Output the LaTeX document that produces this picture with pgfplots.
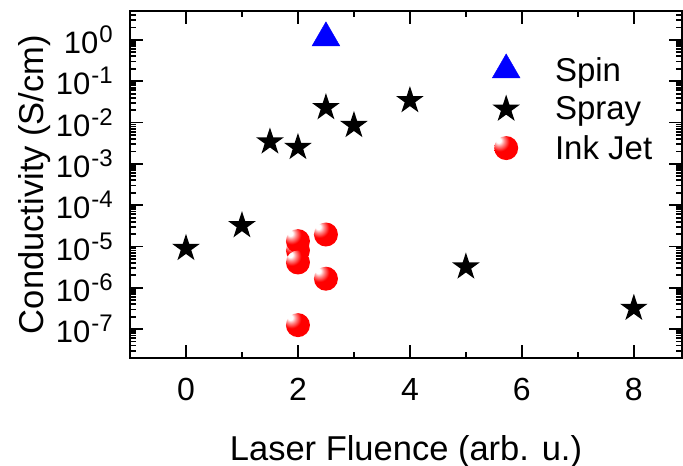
\documentclass[border=0pt]{standalone}
\usepackage{fontspec}
\setmainfont{Liberation Sans}
\usepackage{pgfplots}
\pgfplotsset{compat=1.18}

\pgfdeclareplotmark{fstar}{%
  \pgfmathsetlengthmacro\starinner{0.382*\pgfplotmarksize}%
  \pgfpathmoveto{\pgfpointpolar{90}{\pgfplotmarksize}}%
  \pgfpathlineto{\pgfpointpolar{126}{\starinner}}%
  \pgfpathlineto{\pgfpointpolar{162}{\pgfplotmarksize}}%
  \pgfpathlineto{\pgfpointpolar{198}{\starinner}}%
  \pgfpathlineto{\pgfpointpolar{234}{\pgfplotmarksize}}%
  \pgfpathlineto{\pgfpointpolar{270}{\starinner}}%
  \pgfpathlineto{\pgfpointpolar{306}{\pgfplotmarksize}}%
  \pgfpathlineto{\pgfpointpolar{342}{\starinner}}%
  \pgfpathlineto{\pgfpointpolar{18}{\pgfplotmarksize}}%
  \pgfpathlineto{\pgfpointpolar{54}{\starinner}}%
  \pgfpathclose
  \pgfusepathqfill
}

\pgfdeclareradialshading{redball}{\pgfpoint{-17bp}{17bp}}{%
  color(0bp)=(white);
  color(5bp)=(white);
  color(11bp)=(red!45!white);
  color(20bp)=(red);
  color(100bp)=(red)}

\pgfdeclareplotmark{ball}{%
  \pgfpathcircle{\pgfpointorigin}{\pgfplotmarksize}%
  \pgfshadepath{redball}{0}%
  \pgfusepath{discard}%
}

\newcommand\tl[1]{10\kern1pt\raisebox{11pt}{\fontsize{24}{24}\selectfont #1}}

\begin{document}
\begin{tikzpicture}
\useasboundingbox (-130pt,-108pt) rectangle (553pt,358pt);
\begin{axis}[
  at={(0pt,0pt)}, anchor=south west,
  scale only axis, width=552pt, height=347pt,
  xmin=-1, xmax=8.86,
  ymode=log, ymin=2e-8, ymax=5,
  xtick={0,2,4,6,8}, minor x tick num=1,
  ytick={1e-7,1e-6,1e-5,1e-4,1e-3,1e-2,1e-1,1},
  yticklabels={\tl{-7},\tl{-6},\tl{-5},\tl{-4},\tl{-3},\tl{-2},\tl{-1},\tl{0}},
  minor ytick={2e-8,3e-8,4e-8,5e-8,6e-8,7e-8,8e-8,9e-8,
    2e-7,3e-7,4e-7,5e-7,6e-7,7e-7,8e-7,9e-7,
    2e-6,3e-6,4e-6,5e-6,6e-6,7e-6,8e-6,9e-6,
    2e-5,3e-5,4e-5,5e-5,6e-5,7e-5,8e-5,9e-5,
    2e-4,3e-4,4e-4,5e-4,6e-4,7e-4,8e-4,9e-4,
    2e-3,3e-3,4e-3,5e-3,6e-3,7e-3,8e-3,9e-3,
    2e-2,3e-2,4e-2,5e-2,6e-2,7e-2,8e-2,9e-2,
    2e-1,3e-1,4e-1,5e-1,6e-1,7e-1,8e-1,9e-1,
    2,3,4},
  tick align=inside,
  major tick length=13pt, minor tick length=6pt,
  axis line style={line width=2pt},
  every tick/.style={line width=1.8pt, black},
  /pgf/number format/assume math mode=true,
  xticklabel style={font=\fontsize{32}{32}\selectfont, inner sep=0pt, anchor=north, yshift=-20pt},
  yticklabel style={font=\fontsize{31}{31}\selectfont, inner sep=0pt, anchor=east, xshift=-17pt},
  xlabel={Laser Fluence (arb. u.)},
  ylabel={Conductivity (S/cm)},
  xlabel style={font=\fontsize{34.5}{34.5}\selectfont, at={(axis description cs:0.5,-0.294)}, anchor=base},
  ylabel style={font=\fontsize{34.5}{34.5}\selectfont, at={(axis description cs:-0.1576,0.5)}, anchor=base},
  legend style={draw=none, fill=none, font=\fontsize{33}{33}\selectfont,
    at={(axis description cs:0.656,0.877)}, anchor=north west,
    row sep=10pt, inner sep=0pt,
    /tikz/every odd column/.append style={column sep=33pt}},
  legend cell align=left,
  legend image code/.code={\draw[mark repeat=2,mark phase=2] plot coordinates {(0pt,0pt)(17pt,0pt)(34pt,0pt)};},
]
\addplot[only marks, mark=triangle*, mark size=16pt, color=blue, mark options={fill=blue, draw=none}]
  coordinates {(2.5,1.12)};
\addlegendentry{Spin}
\addplot[only marks, mark=fstar, mark size=14.5pt, color=black]
  coordinates {(0,9e-6) (1,3.2e-5) (1.5,3.4e-3) (2,2.5e-3) (2.5,2.3e-2) (3,8.5e-3) (4,3.4e-2) (5,3.2e-6) (8,3.2e-7)};
\addlegendentry{Spray}
\addplot[only marks, mark=ball, mark size=12pt, color=red]
  coordinates {(2,8e-6) (2,1.35e-5) (2,4.1e-6) (2.5,1.95e-5) (2.5,1.66e-6) (2,1.25e-7)};
\addlegendentry{Ink Jet}
\end{axis}
\end{tikzpicture}
\end{document}
